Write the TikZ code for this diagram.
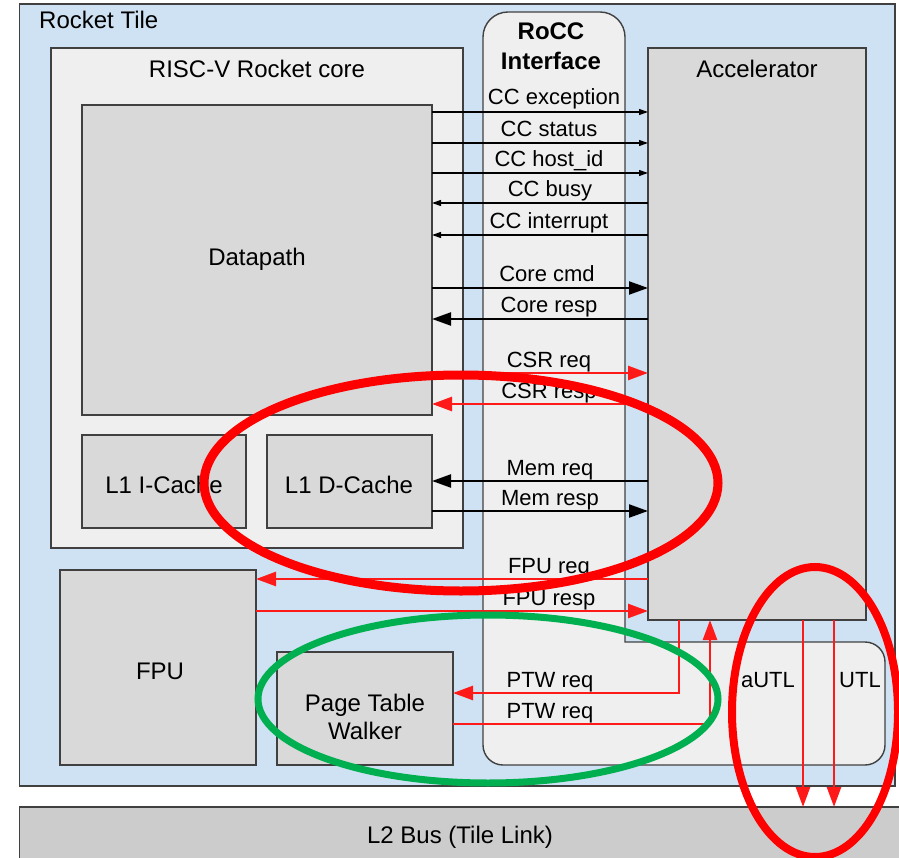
\documentclass[tikz,border=0pt]{standalone}
\usepackage{fontspec}
\setmainfont{Liberation Sans}
\usetikzlibrary{arrows.meta}
\definecolor{tileblue}{HTML}{CFE2F3}
\definecolor{corefill}{HTML}{EFEFEF}
\definecolor{blockfill}{HTML}{D9D9D9}
\definecolor{busfill}{HTML}{CCCCCC}
\definecolor{edgecol}{HTML}{404040}
\definecolor{hlred}{HTML}{FF0000}
\definecolor{hlgreen}{HTML}{00B050}
\definecolor{sigred}{HTML}{FF1A1A}
\begin{document}
\begin{tikzpicture}[x=1pt,y=-1pt,
  box/.style={draw=edgecol,line width=1.4pt,anchor=north west,inner sep=0pt,outer sep=0pt},
  blk/.style={box,fill=blockfill},
  ttl/.style={font=\fontsize{24}{28}\selectfont,anchor=base,inner sep=0pt},
  lbl/.style={font=\fontsize{22}{26}\selectfont,anchor=base,inner sep=0pt},
  thinarr/.style={draw=black,line width=1.1pt,-{Triangle[length=9pt,width=6pt]}},
  thickarr/.style={draw=black,line width=2.3pt,-{Triangle[length=19pt,width=13pt]}},
  redarr/.style={draw=sigred,line width=2.6pt,-{Triangle[length=20pt,width=14pt]}},
  hl/.style={line width=#1}
]
\useasboundingbox (0,0) rectangle (899,858);
\clip (0,0) rectangle (899,858);
\fill[white] (0,0) rectangle (899,858);

% main blocks
\node[box,fill=tileblue,minimum width=875.5pt,minimum height=782pt] (tile) at (19.5,4) {};
\node[box,fill=busfill,minimum width=910pt,minimum height=80pt] (bus) at (19.5,807) {};
\node[box,fill=corefill,minimum width=412pt,minimum height=500pt] (core) at (51,48) {};
\node[blk,minimum width=350pt,minimum height=310pt] (dp) at (82,105) {};
\node[blk,minimum width=164pt,minimum height=93pt] (icache) at (82,435) {};
\node[blk,minimum width=165pt,minimum height=93pt] (dcache) at (267,435) {};
\node[blk,minimum width=196pt,minimum height=195pt] (fpu) at (60,570) {};
\node[blk,minimum width=176pt,minimum height=113pt] (ptw) at (277,652) {};

% RoCC interface shape
\draw[draw=edgecol,line width=1.4pt,fill=corefill]
  (483,745) -- (483,37) arc[start angle=180,end angle=90,radius=25pt]
  -- (600,12) arc[start angle=90,end angle=0,radius=25pt]
  -- (625,642) -- (865,642) arc[start angle=90,end angle=0,radius=20pt]
  -- (885,745) arc[start angle=0,end angle=-90,radius=20pt]
  -- (503,765) arc[start angle=270,end angle=180,radius=20pt] -- cycle;
\node[blk,minimum width=218pt,minimum height=572pt] (acc) at (648,48) {};

% titles
\node[ttl,anchor=base west] (tiletitle) at (39,29) {Rocket Tile};
\node[ttl] (coretitle) at (257,78) {RISC-V Rocket core};
\node[ttl] (acctitle) at (757,78) {Accelerator};
\node[ttl,font=\fontsize{24}{28}\selectfont\bfseries] (rocc1) at (551,40) {RoCC};
\node[ttl,font=\fontsize{24}{28}\selectfont\bfseries] (rocc2) at (551,70) {Interface};
\node[ttl] (dptitle) at (257,266) {Datapath};
\node[ttl] (ictitle) at (164,493) {L1 I-Cache};
\node[ttl] (dctitle) at (349,493) {L1 D-Cache};
\node[ttl] (fputitle) at (160,679) {FPU};
\node[ttl] (ptw1) at (365,711) {Page Table};
\node[ttl] (ptw2) at (365,739) {Walker};
\node[ttl] (bustitle) at (460,843) {L2 Bus (Tile Link)};

% control signals
\draw[thinarr] (dp.east |- 0,112) -- (acc.west |- 0,112);
\draw[thinarr] (dp.east |- 0,143) -- (acc.west |- 0,143);
\draw[thinarr] (dp.east |- 0,173) -- (acc.west |- 0,173);
\draw[thinarr] (acc.west |- 0,203) -- (dp.east |- 0,203);
\draw[thinarr] (acc.west |- 0,235) -- (dp.east |- 0,235);
\node[lbl] (l1) at (554,105) {CC exception};
\node[lbl] (l2) at (549,137) {CC status};
\node[lbl] (l3) at (549,167) {CC host\_id};
\node[lbl] (l4) at (550,197) {CC busy};
\node[lbl] (l5) at (549,229) {CC interrupt};

\draw[thickarr] (dp.east |- 0,288) -- (acc.west |- 0,288);
\draw[thickarr] (acc.west |- 0,319) -- (dp.east |- 0,319);
\node[lbl] (l6) at (547,282) {Core cmd};
\node[lbl] (l7) at (549,313) {Core resp};

\draw[redarr] (dp.east |- 0,373) -- (acc.west |- 0,373);
\draw[redarr] (acc.west |- 0,404) -- (dp.east |- 0,404);
\node[lbl] (l8) at (549,367) {CSR req};
\node[lbl] (l9) at (549,398) {CSR resp};

\draw[thickarr] (acc.west |- 0,481) -- (dcache.east |- 0,481);
\draw[thickarr] (dcache.east |- 0,511) -- (acc.west |- 0,511);
\node[lbl] (l10) at (550,475) {Mem req};
\node[lbl] (l11) at (550,505) {Mem resp};

\draw[redarr] (acc.west |- 0,579) -- (fpu.east |- 0,579);
\draw[redarr] (fpu.east |- 0,611) -- (acc.west |- 0,611);
\node[lbl] (l12) at (549,573) {FPU req};
\node[lbl] (l13) at (549,605) {FPU resp};

% PTW
\coordinate (ptwa) at (679,693);
\coordinate (ptwb) at (710,724);
\draw[redarr] (acc.south -| ptwa) -- (ptwa) -- (ptw.east |- ptwa);
\draw[redarr] (ptw.east |- ptwb) -- (ptwb) -- (acc.south -| ptwb);
\node[lbl] (l14) at (550,687) {PTW req};
\node[lbl] (l15) at (550,718) {PTW req};

% UTL
\draw[redarr] (acc.south -| 803,0) -- (bus.north -| 803,0);
\draw[redarr] (acc.south -| 834,0) -- (bus.north -| 834,0);
\node[lbl] (l16) at (768,687) {aUTL};
\node[lbl] (l17) at (860,687) {UTL};

% highlights
\draw[hlred,hl=9pt] (461,483) ellipse [x radius=257pt,y radius=108pt];
\draw[hlgreen,hl=7pt] (488,699) ellipse [x radius=230pt,y radius=84pt];
\draw[hlred,hl=8pt] (815,712) ellipse [x radius=83pt,y radius=145pt];
\end{tikzpicture}
\end{document}
